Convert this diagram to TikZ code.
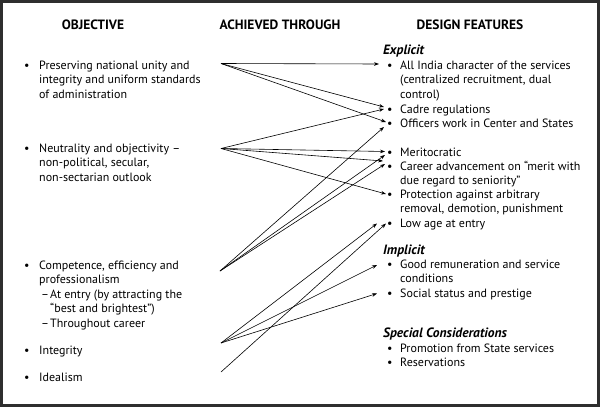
\documentclass[tikz,border=0pt]{standalone}
\usepackage{fontspec}
\setmainfont{PT Sans}
\usetikzlibrary{arrows.meta}
\begin{document}
\begin{tikzpicture}[x=1pt,y=-1pt,
  txt/.style={anchor=base west, inner sep=0pt, align=left, font=\fontsize{12}{14.5}\selectfont},
  sub/.style={anchor=base west, inner sep=0pt, font=\fontsize{13.5}{14}\selectfont\bfseries\itshape},
  head/.style={anchor=base, inner sep=0pt, font=\fontsize{13.5}{14}\selectfont\bfseries},
  conn/.style={line width=0.6pt, -{Stealth[length=5pt,width=3.6pt]}}]
\fill[black!82] (0,0) rectangle (600,407);
\fill[white] (3,2.5) rectangle (597,404);
\useasboundingbox (0,0) rectangle (600,407);
\newcommand{\lb}{\makebox[15pt][l]{\textbullet}}
\newcommand{\rb}{\makebox[13pt][l]{\textbullet}}
% headers
\node[head] (h1) at (93,29) {OBJECTIVE};
\node[head] (h2) at (280,29) {ACHIEVED THROUGH};
\node[head] (h3) at (470,29) {DESIGN FEATURES};
% objectives (anchored at the baseline of the last line)
\node[txt] (o1) at (24,98) {\lb Preserving national unity and\\\hspace*{15pt}integrity and uniform standards\\\hspace*{15pt}of administration};
\node[txt] (o2) at (24,181) {\lb Neutrality and objectivity --\\\hspace*{15pt}non-political, secular,\\\hspace*{15pt}non-sectarian outlook};
\node[txt] (o3) at (24,327) {\lb Competence, efficiency and\\\hspace*{15pt}professionalism\\\hspace*{17pt}\makebox[9pt][l]{--}At entry (by attracting the\\\hspace*{26pt}``best and brightest'')\\\hspace*{17pt}\makebox[9pt][l]{--}Throughout career};
\node[txt] (o4) at (24,354) {\lb Integrity};
\node[txt] (o5) at (24,381) {\lb Idealism};
% design features
\node[sub] (ex) at (383,54) {Explicit};
\node[txt] (d1) at (387,98) {\rb All India character of the services\\\hspace*{13pt}(centralized recruitment, dual\\\hspace*{13pt}control)};
\node[txt] (d2) at (387,113) {\rb Cadre regulations};
\node[txt] (d3) at (387,127) {\rb Officers work in Center and States};
\node[txt] (d4) at (387,156) {\rb Meritocratic};
\node[txt] (d5) at (387,184.5) {\rb Career advancement on ``merit with\\\hspace*{13pt}due regard to seniority''};
\node[txt] (d6) at (387,212.5) {\rb Protection against arbitrary\\\hspace*{13pt}removal, demotion, punishment};
\node[txt] (d7) at (387,227) {\rb Low age at entry};
\node[sub] (im) at (383,254) {Implicit};
\node[txt] (d8) at (387,282.5) {\rb Good remuneration and service\\\hspace*{13pt}conditions};
\node[txt] (d9) at (387,297) {\rb Social status and prestige};
\node[sub] (sp) at (383,337) {Special Considerations};
\node[txt] (d10) at (387,352) {\rb Promotion from State services};
\node[txt] (d11) at (387,366) {\rb Reservations};
% connector ends
\coordinate (s1) at (221,63.5);
\coordinate (s2) at (221,148.5);
\coordinate (s3) at (220,271);
\coordinate (s4) at (221,343);
\coordinate (s5) at (221,372);
\coordinate (tA) at (379,64);
\coordinate (tC1) at (384,107);
\coordinate (tC2) at (384,109);
\coordinate (tO1) at (386,122);
\coordinate (tO2) at (384,127);
\coordinate (tM1) at (385,151.5);
\coordinate (tM2) at (385,155);
\coordinate (tK1) at (383,161);
\coordinate (tK2) at (385,164);
\coordinate (tP) at (386,194);
\coordinate (tL1) at (377,223.5);
\coordinate (tL2) at (386,223.5);
\coordinate (tR) at (377,265);
\coordinate (tS) at (377,293.5);
% connectors
\draw[conn] (s1) -- (tA);
\draw[conn] (s1) -- (tC1);
\draw[conn] (s1) -- (tO1);
\draw[conn] (s2) -- (tC2);
\draw[conn] (s2) -- (tM1);
\draw[conn] (s2) -- (tK1);
\draw[conn] (s2) -- (tP);
\draw[conn] (s3) -- (tO2);
\draw[conn] (s3) -- (tM2);
\draw[conn] (s3) -- (tK2);
\draw[conn] (s4) -- (tL1);
\draw[conn] (s4) -- (tR);
\draw[conn] (s4) -- (tS);
\draw[conn] (s5) -- (tL2);
\end{tikzpicture}
\end{document}
